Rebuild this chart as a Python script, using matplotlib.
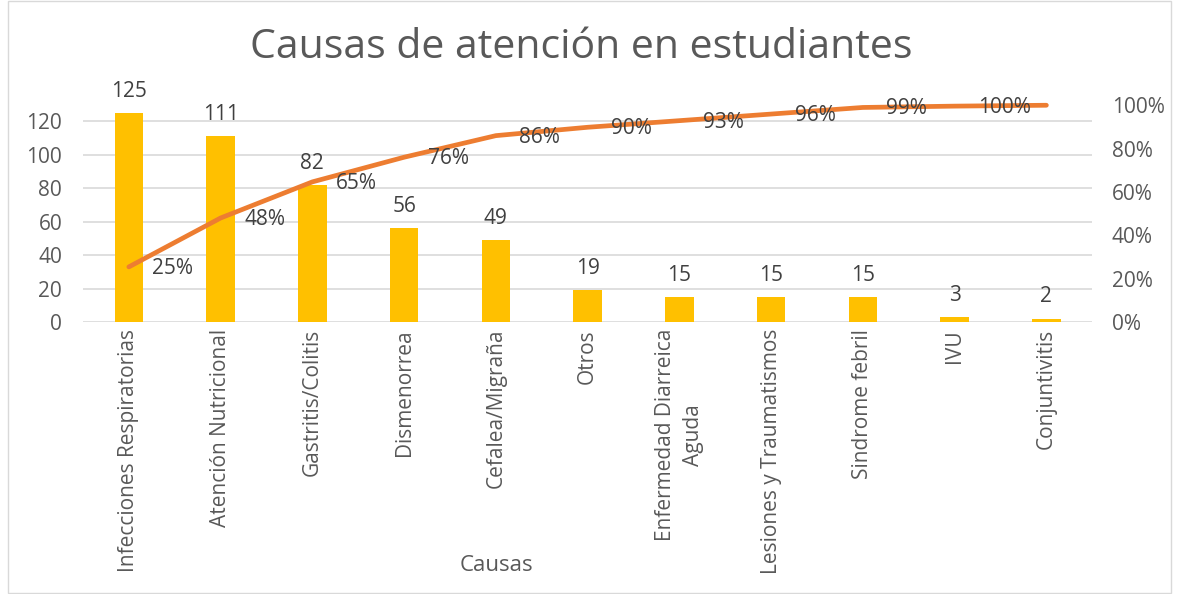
import matplotlib.pyplot as plt
from matplotlib.patches import Rectangle
import numpy as np

plt.rcParams['font.family'] = ['Open Sans', 'DejaVu Sans']

# DATA
causas = ["Infecciones Respiratorias", "Atención Nutricional", "Gastritis/Colitis",
          "Dismenorrea", "Cefalea/Migraña", "Otros", "Enfermedad Diarreica\nAguda",
          "Lesiones y Traumatismos", "Sindrome febril", "IVU", "Conjuntivitis"]
casos = [125, 111, 82, 56, 49, 19, 15, 15, 15, 3, 2]
pct_labels = ["25%", "48%", "65%", "76%", "86%", "90%", "93%", "96%", "99%", "100%", ""]

BAR = "#FFC000"
LINE = "#ED7D31"
GRID = "#D9D9D9"
TXT = "#595959"
LBL = "#404040"

cum = np.cumsum(casos) / np.sum(casos)
x = np.arange(len(causas))

fig = plt.figure(figsize=(11.77, 5.94), dpi=100)
ax = fig.add_axes([0.0705, 0.458, 0.8575, 0.394])
ax2 = ax.twinx()

ax.bar(x, casos, width=0.31, color=BAR, zorder=2)
for xi, v in zip(x, casos):
    ax.annotate(str(v), (xi, v), xytext=(0, 8), textcoords="offset points",
                ha="center", va="bottom", fontsize=15, color=LBL)

ax.set_ylim(0, 140)
ax.set_yticks(range(0, 121, 20))
ax.set_xlim(-0.5, len(causas) - 0.5)
ax.set_xticks(x)
ax.set_xticklabels(causas, rotation=90, fontsize=15, color=TXT, va="top", ha="center",
                   linespacing=1.45)
ax.tick_params(axis="y", labelsize=15, labelcolor=TXT, length=0, pad=15)
ax.tick_params(axis="x", length=0, pad=5)
ax.grid(axis="y", color=GRID, linewidth=1.2, zorder=0)
ax.set_axisbelow(True)
for s in ax.spines.values():
    s.set_visible(False)

ax2.plot(x, cum, color=LINE, linewidth=3.4, solid_capstyle="round")
for xi, c, lab in zip(x, cum, pct_labels):
    if lab:
        ax2.annotate(lab, (xi, c), xytext=(17, -1), textcoords="offset points",
                     ha="left", va="center", fontsize=15, color=LBL)
ax2.set_ylim(0, 1.08)
ax2.set_yticks(np.arange(0, 1.01, 0.2))
ax2.set_yticklabels([f"{int(round(t*100))}%" for t in np.arange(0, 1.01, 0.2)])
ax2.tick_params(axis="y", labelsize=15, labelcolor=TXT, length=0, pad=14)
for s in ax2.spines.values():
    s.set_visible(False)

fig.text(0.494, 0.92, "Causas de atención en estudiantes", ha="center", va="center",
         fontsize=29.5, color=TXT)
fig.text(0.422, 0.048, "Causas", ha="center", va="center", fontsize=16, color=TXT)

fig.patches.append(Rectangle((0.007, 0.002), 0.988, 0.996, transform=fig.transFigure,
                             fill=False, edgecolor=GRID, linewidth=1))

fig.savefig("out.png", dpi=100)
